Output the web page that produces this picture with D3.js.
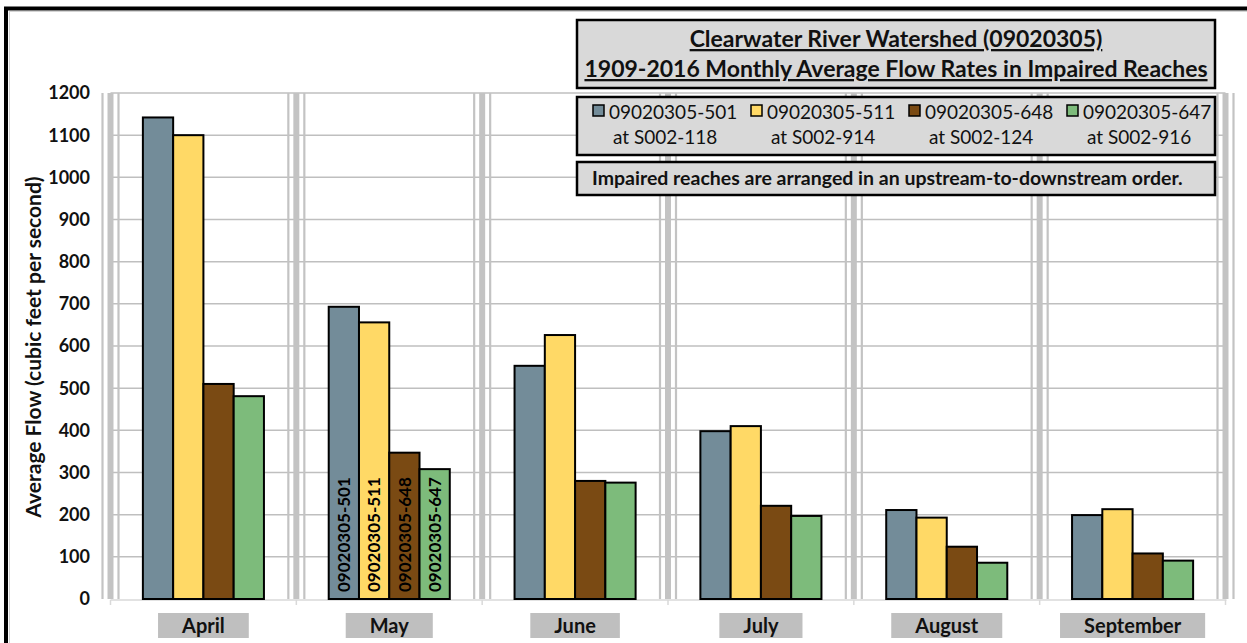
<!DOCTYPE html>
<html>
<head>
<meta charset="utf-8">
<script src="https://cdn.jsdelivr.net/npm/d3@7"></script>
<style>
  html, body { margin: 0; padding: 0; background: #fff; }
  svg { display: block; font-family: Lato, "Open Sans", sans-serif; }
</style>
</head>
<body>
<svg id="chart" width="1247" height="643"></svg>
<script>
// ---------- data ----------
const months = ["April", "May", "June", "July", "August", "September"];
const seriesIds = ["09020305-501", "09020305-511", "09020305-648", "09020305-647"];
const seriesSites = ["at S002-118", "at S002-914", "at S002-124", "at S002-916"];
const reach501 = [1142, 693, 553, 398, 211, 199];
const reach511 = [1100, 656, 626, 410, 193, 213];
const reach648 = [510, 347, 280, 221, 124, 108];
const reach647 = [481, 308, 276, 197, 86, 91];
const yTicks = [0, 100, 200, 300, 400, 500, 600, 700, 800, 900, 1000, 1100, 1200];
const titleLines = ["Clearwater River Watershed (09020305)", "1909-2016 Monthly Average Flow Rates in Impaired Reaches"];
const noteText = "Impaired reaches are arranged in an upstream-to-downstream order.";
const yAxisTitle = "Average Flow (cubic feet per second)";
const labelledMonth = "May";
const seriesColors = ["#738c99", "#ffd966", "#7a4a13", "#7dbb7b"];

const seriesValues = [reach501, reach511, reach648, reach647];
const table = months.map((m, i) => ({ month: m, values: seriesIds.map((id, s) => ({ id, value: seriesValues[s][i], s })) }));

// ---------- layout ----------
const svg = d3.select("#chart");
const plot = { left: 110.5, right: 1225.5, top: 93, bottom: 599 };

const x0 = d3.scaleBand().domain(months).range([plot.left, plot.right]).padding(0);
const x1 = d3.scaleBand().domain(seriesIds).range([0, x0.bandwidth()]).paddingInner(0).paddingOuter(1.07);
const y = d3.scaleLinear().domain([0, 1200]).range([plot.bottom, plot.top]);
const color = d3.scaleOrdinal().domain(seriesIds).range(seriesColors);

// outer frame
svg.append("rect").attr("x", 9.5).attr("y", 11.5).attr("width", 1300).attr("height", 700)
  .attr("fill", "none").attr("stroke", "#d4d4d4").attr("stroke-width", 1);
svg.append("rect").attr("x", 6).attr("y", 8.5).attr("width", 1300).attr("height", 700)
  .attr("fill", "none").attr("stroke", "#000").attr("stroke-width", 4);

// horizontal gridlines
svg.append("g").selectAll("line").data(yTicks.filter(d => d > 0)).join("line")
  .attr("x1", plot.left).attr("x2", plot.right)
  .attr("y1", d => y(d)).attr("y2", d => y(d))
  .attr("stroke", "#bfbfbf").attr("stroke-width", 1.5);

// category separators (triple gray lines)
const bounds = months.map(m => x0(m)).concat([x0(months[months.length - 1]) + x0.bandwidth()]);
const sepG = svg.append("g");
bounds.forEach(b => {
  [[-8, 2.2], [0, 6], [8, 2.2]].forEach(([dx, w]) => {
    sepG.append("line").attr("x1", b + dx).attr("x2", b + dx)
      .attr("y1", plot.top).attr("y2", plot.bottom)
      .attr("stroke", "#c3c3c3").attr("stroke-width", w);
  });
});

// bottom axis line with ticks
const axG = svg.append("g");
axG.append("line").attr("x1", plot.left).attr("x2", plot.right + 1)
  .attr("y1", plot.bottom + 1).attr("y2", plot.bottom + 1)
  .attr("stroke", "#d9d9d9").attr("stroke-width", 1.5);
axG.selectAll("line.tk").data(bounds).join("line").attr("class", "tk")
  .attr("x1", d => d).attr("x2", d => d)
  .attr("y1", plot.bottom + 1).attr("y2", plot.bottom + 6)
  .attr("stroke", "#d9d9d9").attr("stroke-width", 1.5);

// y tick labels
svg.append("g").selectAll("text").data(yTicks).join("text")
  .attr("x", 90).attr("y", d => y(d)).attr("dy", "0.36em")
  .attr("text-anchor", "end").attr("font-weight", "bold").attr("font-size", 18)
  .attr("fill", "#111").text(d => d);

// y axis title
svg.append("text")
  .attr("transform", `translate(41,${(plot.top + plot.bottom) / 2 + 1}) rotate(-90)`)
  .attr("text-anchor", "middle").attr("font-weight", "bold").attr("font-size", 21)
  .attr("fill", "#111").text(yAxisTitle);

// bars
const groups = svg.append("g").selectAll("g").data(table).join("g")
  .attr("transform", d => `translate(${x0(d.month)},0)`);
groups.selectAll("rect").data(d => d.values).join("rect")
  .attr("x", d => x1(d.id)).attr("width", x1.bandwidth())
  .attr("y", d => y(d.value)).attr("height", d => y(0) - y(d.value))
  .attr("fill", d => color(d.id)).attr("stroke", "#000").attr("stroke-width", 2);

// labels inside bars for one month
groups.filter(d => d.month === labelledMonth).selectAll("text").data(d => d.values).join("text")
  .attr("transform", d => `translate(${x1(d.id) + x1.bandwidth() / 2},${y(0) - 7}) rotate(-90)`)
  .attr("dy", "0.36em").attr("text-anchor", "start")
  .attr("font-weight", "bold").attr("font-size", 17).attr("fill", "#000")
  .text(d => d.id);

// category label boxes
const catG = svg.append("g").selectAll("g").data(months).join("g");
catG.each(function (m) {
  const g = d3.select(this);
  const cx = x0(m) + x0.bandwidth() / 2;
  const t = g.append("text").attr("x", cx).attr("y", 633).attr("text-anchor", "middle")
    .attr("font-weight", "bold").attr("font-size", 20).attr("fill", "#111").text(m);
  const w = t.node().getComputedTextLength() + 48;
  g.insert("rect", "text").attr("x", cx - w / 2).attr("y", 613).attr("width", w).attr("height", 25)
    .attr("fill", "#bfbfbf");
});

// title box
const boxL = 577, boxR = 1215;
svg.append("rect").attr("x", boxL).attr("y", 20).attr("width", boxR - boxL).attr("height", 68)
  .attr("fill", "#d9d9d9").attr("stroke", "#000").attr("stroke-width", 2.5);
svg.append("g").selectAll("text").data(titleLines).join("text")
  .attr("x", (boxL + boxR) / 2).attr("y", (d, i) => 47 + i * 30)
  .attr("text-anchor", "middle").attr("font-weight", "bold").attr("font-size", 23)
  .attr("text-decoration", "underline").attr("fill", "#111").text(d => d);

// legend box
svg.append("rect").attr("x", boxL).attr("y", 97).attr("width", boxR - boxL).attr("height", 58)
  .attr("fill", "#d9d9d9").attr("stroke", "#000").attr("stroke-width", 2.5);
const legG = svg.append("g").selectAll("g").data(seriesIds).join("g")
  .attr("transform", (d, i) => `translate(${593 + i * 158},0)`);
legG.append("rect").attr("x", 0).attr("y", 105).attr("width", 11).attr("height", 11)
  .attr("fill", d => color(d)).attr("stroke", "#000").attr("stroke-width", 1.5);
legG.each(function (d, i) {
  const g = d3.select(this);
  const t = g.append("text").attr("x", 16).attr("y", 119).attr("font-size", 19).attr("fill", "#111").text(d);
  const itemW = 16 + t.node().getComputedTextLength();
  g.append("text").attr("x", itemW / 2).attr("y", 144).attr("text-anchor", "middle")
    .attr("font-size", 19).attr("fill", "#111").text(seriesSites[i]);
});

// note box
svg.append("rect").attr("x", boxL).attr("y", 162).attr("width", boxR - boxL).attr("height", 33)
  .attr("fill", "#d9d9d9").attr("stroke", "#000").attr("stroke-width", 2.5);
svg.append("text").attr("x", 592).attr("y", 185).attr("font-weight", "bold").attr("font-size", 19.5)
  .attr("fill", "#111").text(noteText);
</script>
</body>
</html>
